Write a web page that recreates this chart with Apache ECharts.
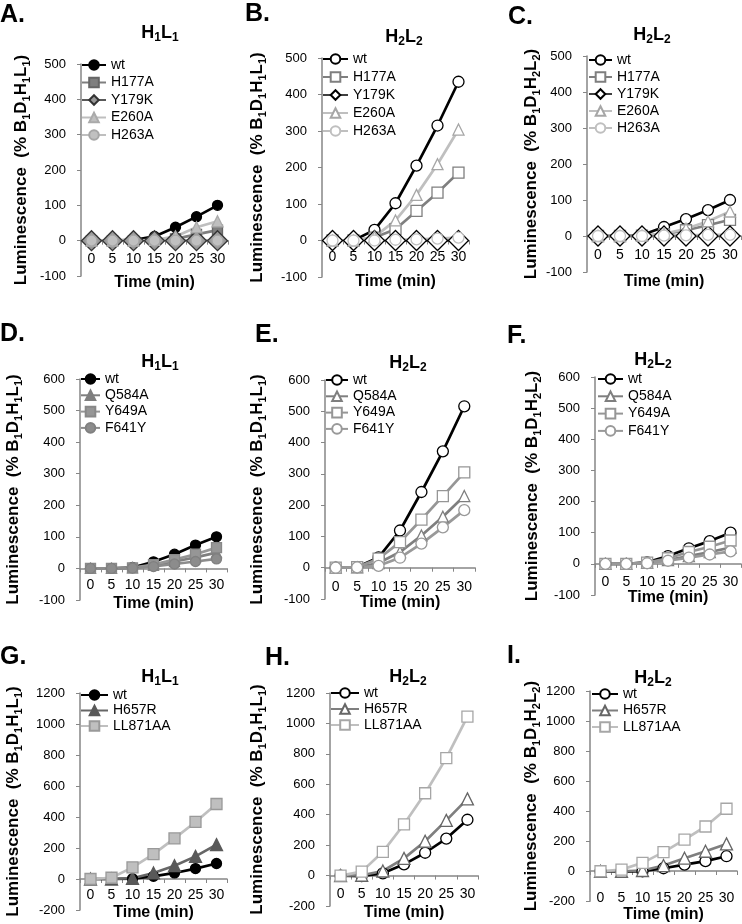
<!DOCTYPE html>
<html>
<head>
<meta charset="utf-8">
<script src="https://cdn.jsdelivr.net/npm/echarts@6/dist/echarts.min.js"></script>
<style>
html, body { margin: 0; padding: 0; background: #fff; }
#main { width: 742px; height: 924px; }
</style>
</head>
<body>
<div id="main"></div>
<script>
// time points (min)
const times = ['0', '5', '10', '15', '20', '25', '30'];

// A. H1L1
const aWt    = [0, 0, 2, 12, 38, 68, 100];
const aH177A = [0, 0, 0, 1, 5, 18, 30];
const aY179K = [0, 0, 0, 0, 0, 0, 0];
const aE260A = [0, 0, 0, 2, 12, 38, 55];
const aH263A = [0, 0, 0, 0, 0, 0, 0];

// B. H2L2
const bWt    = [0, 0, 29, 102, 205, 315, 435];
const bH177A = [0, 0, 8, 31, 81, 131, 186];
const bY179K = [0, 0, 0, 0, 0, 0, 0];
const bE260A = [0, 0, 10, 55, 125, 209, 304];
const bH263A = [0, 0, 0, 2, 3, 5, 8];

// C. H2L2 (norm. to H2L2)
const cWt    = [0, 0, 3, 25, 47, 72, 100];
const cH177A = [0, 0, 1, 5, 16, 30, 45];
const cY179K = [0, 0, 0, 0, 0, 0, 0];
const cE260A = [0, 0, 1, 6, 20, 41, 68];
const cH263A = [0, 0, 0, 1, 2, 3, 3];

// D. H1L1
const dWt    = [0, 0, 3, 21, 45, 74, 100];
const dQ584A = [0, 0, 2, 10, 22, 35, 50];
const dY649A = [0, 0, 2, 12, 28, 45, 66];
const dF641Y = [0, 0, 1, 6, 14, 22, 30];

// E. H2L2
const eWt    = [0, 2, 33, 119, 242, 372, 516];
const eQ584A = [0, 1, 15, 50, 103, 163, 229];
const eY649A = [0, 2, 29, 82, 154, 229, 305];
const eF641Y = [0, 1, 6, 32, 77, 129, 184];

// F. H2L2 (norm. to H2L2)
const fWt    = [0, 0, 5, 25, 50, 73, 100];
const fQ584A = [0, 0, 3, 12, 25, 38, 52];
const fY649A = [0, 0, 4, 18, 38, 55, 75];
const fF641Y = [0, 0, 2, 10, 20, 30, 40];

// G. H1L1
const gWt      = [0, 0, 2, 17, 39, 67, 100];
const gH657R   = [0, 0, 5, 39, 86, 146, 222];
const gLL871AA = [0, 8, 75, 161, 262, 368, 484];

// H. H2L2
const hWt      = [0, -3, 15, 74, 150, 243, 367];
const hH657R   = [0, 2, 30, 113, 226, 363, 504];
const hLL871AA = [0, 26, 156, 337, 541, 772, 1045];

// I. H2L2 (norm. to H2L2)
const iWt      = [0, -2, 0, 20, 44, 67, 100];
const iH657R   = [0, 0, 5, 38, 87, 133, 182];
const iLL871AA = [0, 11, 56, 127, 211, 298, 416];

const FONT = '"Liberation Sans", Arial, sans-serif';
const AXIS_GRAY = '#868686';

// marker looks
const looks = {
    wtF:   { line: '#000', sym: 'circle', size: 10, fill: '#000', border: '#000' },
    wtO:   { line: '#000', sym: 'circle', size: 11, fill: '#fff', border: '#000' },
    sqF:   { line: '#7f7f7f', sym: 'rect', size: 10, fill: '#7f7f7f', border: '#666' },
    sqO:   { line: '#7f7f7f', sym: 'rect', size: 11, fill: '#fff', border: '#7f7f7f' },
    diF:   { line: '#595959', sym: 'diamond', size: 20, fill: '#999', border: '#333' },
    diO:   { line: '#404040', sym: 'diamond', size: 20, fill: '#fff', border: '#000' },
    trLF:  { line: '#bfbfbf', sym: 'triangle', size: 11, fill: '#bfbfbf', border: '#aaa' },
    trLO:  { line: '#bfbfbf', sym: 'triangle', size: 11, fill: '#fff', border: '#a6a6a6' },
    ciLF:  { line: '#bfbfbf', sym: 'circle', size: 11, fill: '#c0c0c0', border: '#a6a6a6' },
    ciLO:  { line: '#bfbfbf', sym: 'circle', size: 11, fill: '#fff', border: '#bfbfbf' },
    trGF:  { line: '#7f7f7f', sym: 'triangle', size: 10, fill: '#7f7f7f', border: '#7f7f7f' },
    sqGF:  { line: '#969696', sym: 'rect', size: 10, fill: '#969696', border: '#888' },
    ciGF:  { line: '#8c8c8c', sym: 'circle', size: 10, fill: '#8c8c8c', border: '#808080' },
    trGO:  { line: '#7f7f7f', sym: 'triangle', size: 11, fill: '#fff', border: '#7f7f7f' },
    sqGO:  { line: '#969696', sym: 'rect', size: 11, fill: '#fff', border: '#969696' },
    ciGO:  { line: '#999', sym: 'circle', size: 11, fill: '#fff', border: '#999' },
    trDF:  { line: '#666', sym: 'triangle', size: 12, fill: '#595959', border: '#595959' },
    trDO:  { line: '#7f7f7f', sym: 'triangle', size: 12, fill: '#fff', border: '#666' },
    sqLF:  { line: '#bfbfbf', sym: 'rect', size: 11, fill: '#bfbfbf', border: '#999' },
    sqLO:  { line: '#bfbfbf', sym: 'rect', size: 11, fill: '#fff', border: '#a6a6a6' }
};

// layout of the nine panels
const panels = [
    { key: 'A', sub: '1', norm: '1', left: 81, top: 64, w: 147, h: 212, min: -100, max: 500, step: 100,
      title: [160, 33], letter: [0, 15], lab: 11, xGap: 34, yGap: 49, leg: [81, 58, 24, 3.5],
      series: [['wt', aWt, 'wtF'], ['H177A', aH177A, 'sqF'], ['Y179K', aY179K, 'diF'], ['E260A', aE260A, 'trLF'], ['H263A', aH263A, 'ciLF']] },
    { key: 'B', sub: '2', norm: '1', left: 322, top: 58, w: 147, h: 219, min: -100, max: 500, step: 100,
      title: [404, 37], letter: [245, 14], lab: 10, xGap: 33, yGap: 54, leg: [322, 52, 25, 4],
      series: [['wt', bWt, 'wtO'], ['H177A', bH177A, 'sqO'], ['Y179K', bY179K, 'diO'], ['E260A', bE260A, 'trLO'], ['H263A', bH263A, 'ciLO']] },
    { key: 'C', sub: '2', norm: '2', left: 587, top: 56, w: 154, h: 216, min: -100, max: 500, step: 100,
      title: [652, 35], letter: [508, 17], lab: 12, xGap: 38, yGap: 42, leg: [588, 53, 23, 3],
      series: [['wt', cWt, 'wtO'], ['H177A', cH177A, 'sqO'], ['Y179K', cY179K, 'diO'], ['E260A', cE260A, 'trLO'], ['H263A', cH263A, 'ciLO']] },
    { key: 'D', sub: '1', norm: '1', left: 80, top: 379, w: 147, h: 221, min: -100, max: 600, step: 100,
      title: [160, 362], letter: [0, 334], lab: 10, xGap: 27, yGap: 56, leg: [80, 372, 19, 2.3],
      series: [['wt', dWt, 'wtF'], ['Q584A', dQ584A, 'trGF'], ['Y649A', dY649A, 'sqGF'], ['F641Y', dF641Y, 'ciGF']] },
    { key: 'E', sub: '2', norm: '1', left: 325, top: 380, w: 150, h: 219, min: -100, max: 600, step: 100,
      title: [408, 363], letter: [255, 335], lab: 12, xGap: 26, yGap: 57, leg: [325, 373, 22, 2.3],
      series: [['wt', eWt, 'wtO'], ['Q584A', eQ584A, 'trGO'], ['Y649A', eY649A, 'sqGO'], ['F641Y', eF641Y, 'ciGO']] },
    { key: 'F', sub: '2', norm: '2', left: 595, top: 377, w: 146, h: 218, min: -100, max: 600, step: 100,
      title: [653, 360], letter: [507, 336], lab: 11, xGap: 24, yGap: 52, leg: [597, 372, 25, 3.3],
      series: [['wt', fWt, 'wtO'], ['Q584A', fQ584A, 'trGO'], ['Y649A', fY649A, 'sqGO'], ['F641Y', fF641Y, 'ciGO']] },
    { key: 'G', sub: '1', norm: '1', left: 80, top: 693, w: 147, h: 217, min: -200, max: 1200, step: 200,
      title: [160, 677], letter: [0, 657], lab: 9, xGap: 26, yGap: 56, leg: [80, 688, 27, 1.5],
      series: [['wt', gWt, 'wtF'], ['H657R', gH657R, 'trDF'], ['LL871AA', gLL871AA, 'sqLF']] },
    { key: 'H', sub: '2', norm: '1', left: 330, top: 693, w: 148, h: 213, min: -200, max: 1200, step: 200,
      title: [408, 677], letter: [265, 658], lab: 12, xGap: 29, yGap: 62, leg: [330, 686, 28, 2],
      series: [['wt', hWt, 'wtO'], ['H657R', hH657R, 'trDO'], ['LL871AA', hLL871AA, 'sqLO']] },
    { key: 'I', sub: '2', norm: '2', left: 590, top: 691, w: 147, h: 212, min: -200, max: 1200, step: 200,
      title: [653, 678], letter: [507, 656], lab: 20, xGap: 36, yGap: 48, leg: [591, 687, 26, 2.5],
      series: [['wt', iWt, 'wtO'], ['H657R', iH657R, 'trDO'], ['LL871AA', iLL871AA, 'sqLO']] }
];

const subRich = (big, small) => ({
    b: { fontSize: big, fontWeight: 'bold', fontFamily: FONT, color: '#000', lineHeight: big + 4 },
    s: { fontSize: small, fontWeight: 'bold', fontFamily: FONT, color: '#000', lineHeight: small + 1, verticalAlign: 'bottom' }
});

const titleText = (n) => `{b|H}{s|${n}}{b|L}{s|${n}}`;
const yNameText = (n) => `{b|Luminescence  (% B}{s|1}{b|D}{s|1}{b|H}{s|${n}}{b|L}{s|${n}}{b|)}`;

const grids = [], xAxes = [], yAxes = [], legends = [], series = [], graphics = [];

panels.forEach((p, i) => {
    grids.push({ left: p.left, top: p.top, width: p.w, height: p.h, containLabel: false });

    // the time axis crosses at y = 0, like the Excel original
    const zeroLift = p.h * (0 - p.min) / (p.max - p.min);
    xAxes.push({
        type: 'category', gridIndex: i, data: times, boundaryGap: true,
        position: 'bottom', offset: -zeroLift,
        axisLine: { onZero: false, lineStyle: { color: AXIS_GRAY, width: 1.5 } },
        axisTick: { show: true, length: 4, lineStyle: { color: AXIS_GRAY } },
        axisLabel: { interval: 0, color: '#000', fontSize: 14, fontFamily: FONT, margin: p.lab },
        splitLine: { show: false },
        name: 'Time (min)', nameLocation: 'middle', nameGap: p.xGap,
        nameTextStyle: { fontSize: 16, fontWeight: 'bold', color: '#000', fontFamily: FONT }
    });

    yAxes.push({
        type: 'value', gridIndex: i, min: p.min, max: p.max, interval: p.step,
        axisLine: { show: true, onZero: false, lineStyle: { color: AXIS_GRAY, width: 1.5 } },
        axisTick: { show: true, length: 4, lineStyle: { color: AXIS_GRAY } },
        axisLabel: { color: '#000', fontSize: 13, fontFamily: FONT, margin: 15, formatter: (v) => String(v) },
        splitLine: { show: false },
        name: yNameText(p.norm), nameLocation: 'middle', nameGap: p.yGap,
        nameTextStyle: { rich: subRich(17, 11) }
    });

    const names = [];
    p.series.forEach(([label, values, look]) => {
        const lk = looks[look];
        const nm = p.key + '|' + label;
        names.push(nm);
        series.push({
            type: 'line', name: nm, xAxisIndex: i, yAxisIndex: i, data: values,
            symbol: lk.sym, symbolSize: lk.size, showAllSymbol: true, clip: false,
            lineStyle: { color: lk.line, width: 2.7 },
            itemStyle: { color: lk.fill, borderColor: lk.border, borderWidth: 1.3 }
        });
    });

    legends.push({
        data: names, orient: 'vertical', left: p.leg[0], top: p.leg[1], padding: 0,
        itemWidth: p.leg[2], itemHeight: 12, itemGap: p.leg[3],
        formatter: (n) => n.split('|')[1],
        textStyle: { fontSize: 14, color: '#000', fontFamily: FONT, lineHeight: 14 }
    });

    graphics.push({
        type: 'text', x: p.title[0], y: p.title[1],
        style: { text: titleText(p.sub), align: 'center', verticalAlign: 'middle', rich: subRich(18, 12) }
    });
    graphics.push({
        type: 'text', x: p.letter[0], y: p.letter[1],
        style: { text: p.key + '.', align: 'left', verticalAlign: 'middle', fontSize: 25, fontWeight: 'bold', fontFamily: FONT, fill: '#000' }
    });
});

const myChart = echarts.init(document.getElementById('main'), null, { renderer: 'canvas' });
myChart.setOption({
    animation: false,
    backgroundColor: '#fff',
    grid: grids,
    xAxis: xAxes,
    yAxis: yAxes,
    legend: legends,
    series: series,
    graphic: graphics
});
</script>
</body>
</html>
